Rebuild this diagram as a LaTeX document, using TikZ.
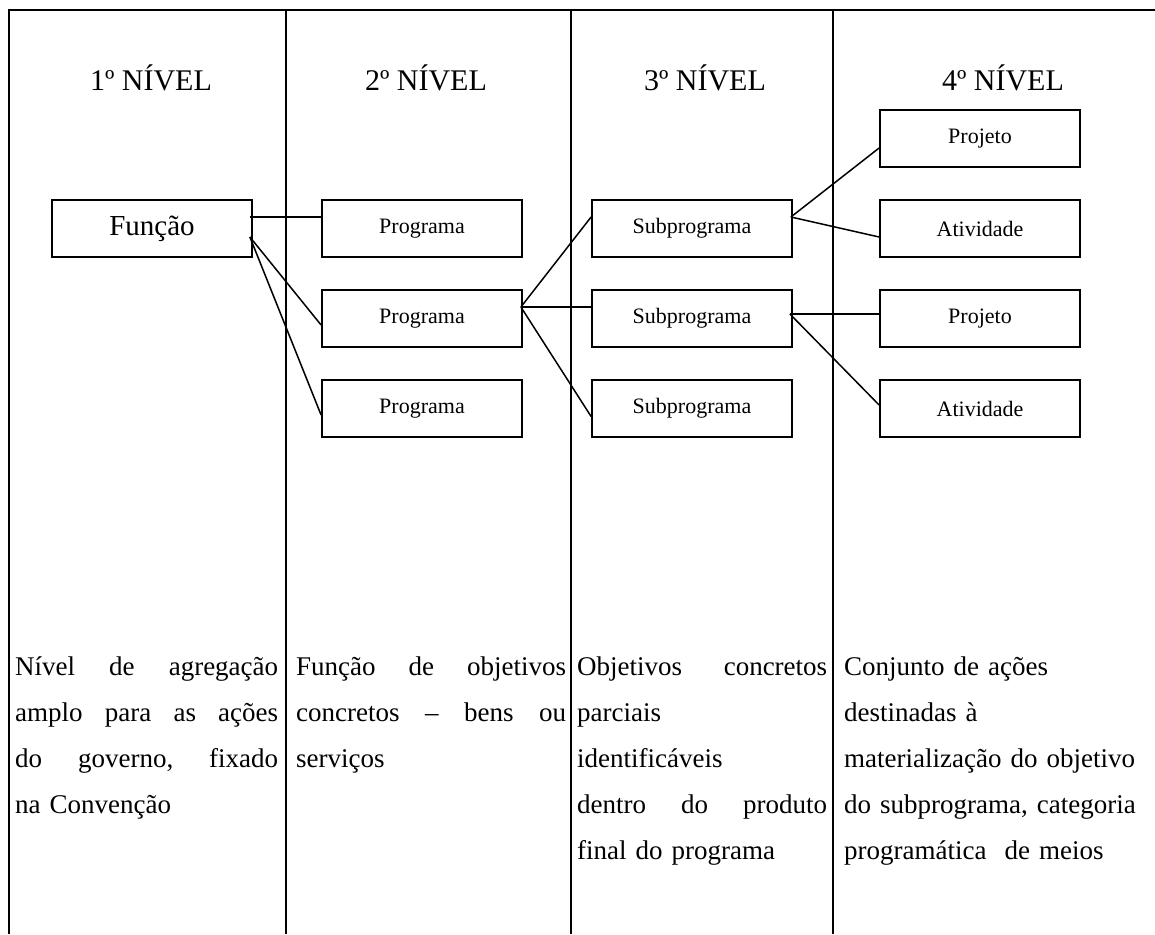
\documentclass[tikz,border=0pt]{standalone}
\usepackage{fontspec}
\setmainfont{Liberation Serif}
\usetikzlibrary{calc}
\begin{document}
\begin{tikzpicture}[x=1pt,y=-1pt,
  rule/.style={line width=2.2pt},
  box/.style={draw,line width=1.8pt,minimum width=200pt,minimum height=57pt,
    inner sep=0pt,font=\fontsize{22}{26}\selectfont},
  link/.style={line width=1.5pt},
  head/.style={anchor=base,inner sep=0pt,font=\fontsize{30}{34}\selectfont},
  desc/.style={anchor=north west,inner sep=0pt,align=left,
    font=\fontsize{27}{46}\selectfont}
]
\useasboundingbox (0,0) rectangle (1155,934);

% table rules: top edge and column separators
\draw[rule,line join=miter] (9,934) -- (9,10) -- (1160,10);
\draw[rule] (286,10) -- (286,934);
\draw[rule] (571,10) -- (571,934);
\draw[rule] (833,10) -- (833,934);

% column headings
\node[head] (h1) at (151,90)  {1º NÍVEL};
\node[head] (h2) at (426,90)  {2º NÍVEL};
\node[head] (h3) at (705,90)  {3º NÍVEL};
\node[head] (h4) at (1003,90) {4º NÍVEL};

% hierarchy boxes
\node[box,font=\fontsize{29}{34}\selectfont] (fun) at (152,228.5) {Função};
\node[box] (p1) at (422,228.5) {Programa};
\node[box] (p2) at (422,318.5) {Programa};
\node[box] (p3) at (422,408.5) {Programa};
\node[box] (s1) at (692,228.5) {Subprograma};
\node[box] (s2) at (692,318.5) {Subprograma};
\node[box] (s3) at (692,408.5) {Subprograma};
\node[box] (j1) at (980,138.5) {Projeto};
\node[box] (a1) at (980,228.5) {Atividade};
\node[box] (j2) at (980,318.5) {Projeto};
\node[box] (a2) at (980,408.5) {Atividade};

% links between levels
\draw[link] ($(fun.east)+(-3,-11.5)$) -- ($(p1.west)+(0,-11.5)$);
\draw[link] ($(fun.east)+(-3,8.5)$) -- ($(p2.west)+(0,6.5)$);
\draw[link] ($(fun.east)+(-3,8.5)$) -- ($(p3.west)+(0,6.5)$);
\draw[link] ($(p2.east)+(-2,-11.5)$) -- ($(s1.west)+(0,-11.5)$);
\draw[link] ($(p2.east)+(-2,-11.5)$) -- ($(s2.west)+(0,-11.5)$);
\draw[link] ($(p2.east)+(-2,-11.5)$) -- ($(s3.west)+(0,8)$);
\draw[link] ($(s1.east)+(-2,-11.5)$) -- ($(j1.west)+(0,9.5)$);
\draw[link] ($(s1.east)+(-2,-11.5)$) -- ($(a1.west)+(0,8.5)$);
\draw[link] ($(s2.east)+(-3,-4.5)$) -- ($(j2.west)+(0,-4.5)$);
\draw[link] ($(s2.east)+(-3,-4.5)$) -- ($(a2.west)+(0,-3.5)$);

% level descriptions
\node[desc,text width=263pt] (d1) at (15,643) {\strut
  Nível\hfill de\hfill agregação\\
  amplo\hfill para\hfill as\hfill ações\\
  do\hfill governo,\hfill fixado\\
  na Convenção};
\node[desc,text width=270pt] (d2) at (296,643) {\strut
  Função\hfill de\hfill objetivos\\
  concretos\hfill –\hfill bens\hfill ou\\
  serviços};
\node[desc,text width=250pt] (d3) at (577,643) {\strut
  Objetivos\hfill concretos\\
  parciais\\
  identificáveis\\
  dentro\hfill do\hfill produto\\
  final do programa};
\node[desc,text width=305pt] (d4) at (844,643) {\strut
  Conjunto de ações\\
  destinadas à\\
  materialização do objetivo\\
  do subprograma, categoria\\
  programática\ \ de meios};
\end{tikzpicture}
\end{document}
